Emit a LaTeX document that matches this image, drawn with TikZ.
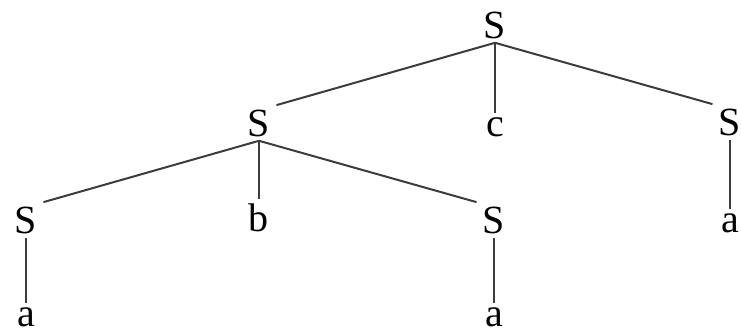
\documentclass[tikz,border=0pt]{standalone}
\usepackage{fontspec}
\setmainfont{Liberation Serif}
\usepackage{xcolor}
\usetikzlibrary{positioning}
\definecolor{treeGray}{HTML}{3C3C3C}

\begin{document}
\begin{tikzpicture}[
  x=0.5pt, y=-0.5pt,
  every node/.style={font=\fontsize{20}{24}\selectfont, inner xsep=3pt, inner ysep=2pt, anchor=base},
  branch/.style={treeGray, line width=1pt},
]

% --- Frame (pixel units, y down) ---
\useasboundingbox (0,0) rectangle (741,333);

% --- Level 1 ---
\node (root) at (495,38) {S};

% --- Level 2 ---
\node (sL) at (259,136) {S};
\node (c)  at (495,136) {c};
\node (sR) at (730,135) {S};

% --- Level 3 ---
\node (sLL) at (26,233)  {S};
\node (b)   at (259,231) {b};
\node (sLR) at (494,233) {S};
\node (aR)  at (730,232) {a};

% --- Level 4 ---
\node (aLL) at (26,326)  {a};
\node (aLR) at (494,326) {a};

% --- Branches ---
\draw[branch] (root.south) -- (sL.north east);
\draw[branch] (root.south) -- (c.north);
\draw[branch] (root.south) -- (sR.north west);

\draw[branch] (sL.south) -- (sLL.north east);
\draw[branch] (sL.south) -- (b.north);
\draw[branch] (sL.south) -- (sLR.north west);

\draw[branch] (sR.south) -- (aR.north);
\draw[branch] (sLL.south) -- (aLL.north);
\draw[branch] (sLR.south) -- (aLR.north);

\end{tikzpicture}
\end{document}
